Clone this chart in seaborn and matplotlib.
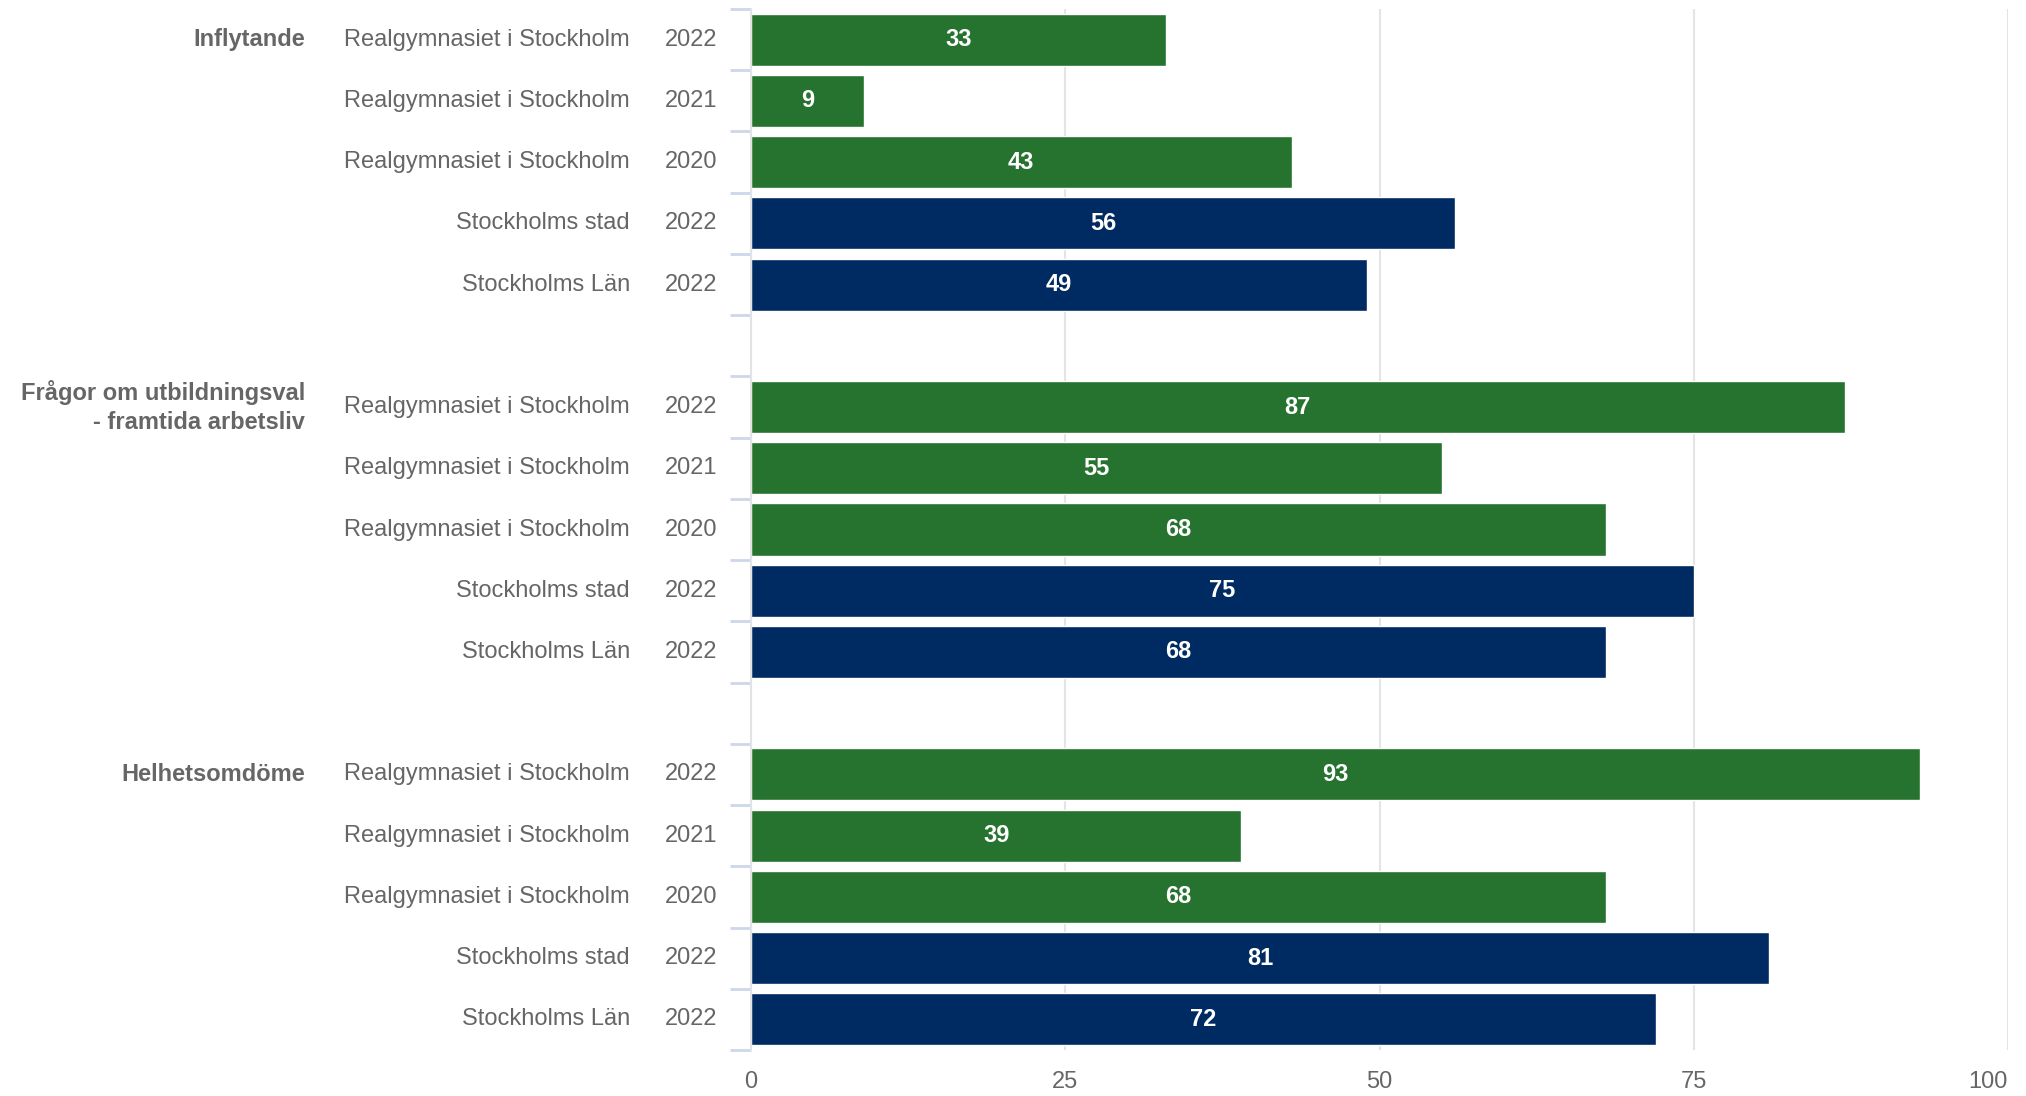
import numpy as np
import pandas as pd
import matplotlib.pyplot as plt
import seaborn as sns
from matplotlib import transforms

# Data
groups = ["Inflytande", "Frågor om utbildningsval\n- framtida arbetsliv", "Helhetsomdöme"]
units = ["Realgymnasiet i Stockholm", "Realgymnasiet i Stockholm", "Realgymnasiet i Stockholm",
         "Stockholms stad", "Stockholms Län"]
years = ["2022", "2021", "2020", "2022", "2022"]
kinds = ["skola", "skola", "skola", "jämförelse", "jämförelse"]
values_inflytande = [33, 9, 43, 56, 49]
values_fragor = [87, 55, 68, 75, 68]
values_helhet = [93, 39, 68, 81, 72]
x_ticks = [0, 25, 50, 75, 100]

green = "#267330"
navy = "#002a62"
text_gray = "#666666"

# Build long table, with an empty slot between groups
rows = []
order = []
for gi, (grp, vals) in enumerate(zip(groups, [values_inflytande, values_fragor, values_helhet])):
    if gi > 0:
        order.append(f"gap{gi}")
    for ri in range(len(units)):
        key = f"{gi}-{ri}"
        order.append(key)
        rows.append({"key": key, "group": grp, "unit": units[ri], "year": years[ri],
                     "kind": kinds[ri], "value": vals[ri], "first": ri == 0})
df = pd.DataFrame(rows)

sns.set_theme(style="white")
plt.rcParams["font.family"] = ["Liberation Sans", "DejaVu Sans"]

fig = plt.figure(figsize=(20.26, 10.96), dpi=100)
ax = fig.add_axes([751 / 2026, 1 - 1050 / 1096, (2008 - 751) / 2026, (1050 - 9) / 1096])

sns.barplot(data=df, x="value", y="key", hue="kind", order=order,
            hue_order=["skola", "jämförelse"], palette=[green, navy], saturation=1,
            orient="h", dodge=False, width=0.85, edgecolor="white", linewidth=1,
            legend=False, ax=ax, zorder=2)

# value labels in the middle of each bar
for cont in ax.containers:
    ax.bar_label(cont, label_type="center", fmt="%.0f", color="white",
                 fontweight="bold", fontsize=17)

ax.set_xlim(0, 100)
ax.set_ylim(len(order) - 0.5, -0.5)
ax.set_xlabel("")
ax.set_ylabel("")

# x axis
ax.set_xticks(x_ticks)
ax.set_xticklabels([str(t) for t in x_ticks])
ax.tick_params(axis="x", length=0, pad=15, labelsize=17, labelcolor=text_gray)
ax.get_xticklabels()[-1].set_ha("right")
ax.grid(axis="x", color="#e4e4e4", lw=1.5, zorder=0)
ax.set_axisbelow(True)

# y axis: no labels, short separators at row boundaries
ax.set_yticks(range(len(order)))
ax.set_yticklabels([])
ax.tick_params(axis="y", which="major", length=0)
bounds = []
for k in df["key"]:
    p = order.index(k)
    bounds += [p - 0.5, p + 0.5]
bounds = sorted(set(bounds))
ax.set_yticks(bounds, minor=True)
ax.tick_params(axis="y", which="minor", length=15, width=2, color="#cdd7ec", left=True)

for s in ["top", "right", "bottom"]:
    ax.spines[s].set_visible(False)
ax.spines["left"].set_color("#e3e3e3")
ax.spines["left"].set_linewidth(1.5)

# row labels
trans = transforms.blended_transform_factory(fig.transFigure, ax.transData)
for _, r in df.iterrows():
    y = order.index(r["key"])
    ax.text(717 / 2026, y, r["year"], transform=trans, ha="right", va="center",
            fontsize=17, color=text_gray)
    ax.text(630 / 2026, y, r["unit"], transform=trans, ha="right", va="center",
            fontsize=17, color=text_gray)
    if r["first"]:
        ax.text(305 / 2026, y, r["group"], transform=trans, ha="right", va="center",
                multialignment="right", fontsize=17, fontweight="bold",
                color=text_gray, linespacing=1.3)

fig.savefig("out.png", dpi=100)
